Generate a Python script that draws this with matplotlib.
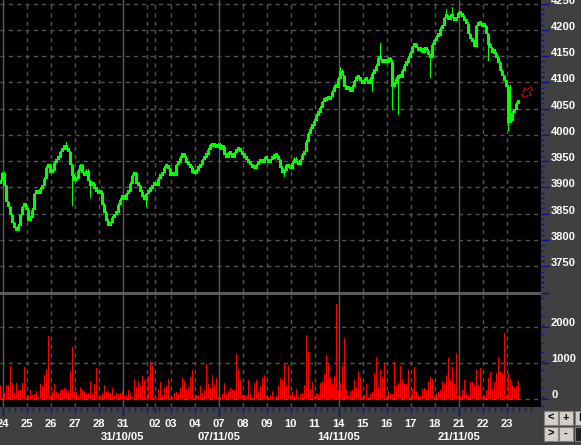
import numpy as np
import matplotlib
matplotlib.use('Agg')
import matplotlib.pyplot as plt
import matplotlib.transforms as mtransforms
from matplotlib.patches import Rectangle, FancyArrowPatch

# ----------- DATA -----------
first_open = 3910
closes = [
    3915, 3930, 3905, 3875, 3865, 3850, 3835, 3825, 3820, 3830,
    3850, 3865, 3870, 3860, 3840, 3845, 3860, 3890, 3895, 3890,
    3900, 3905, 3920, 3940, 3945, 3930, 3935, 3950, 3955, 3960,
    3970, 3975, 3980, 3975, 3970, 3945, 3925, 3915, 3920, 3935,
    3945, 3930, 3925, 3935, 3915, 3905, 3910, 3900, 3895, 3890,
    3893, 3870, 3855, 3840, 3830, 3835, 3845, 3850, 3855, 3870,
    3880, 3885, 3880, 3890, 3895, 3910, 3925, 3930, 3910, 3905,
    3895, 3885, 3880, 3890, 3895, 3900, 3905, 3910, 3905, 3920,
    3925, 3930, 3940, 3942, 3938, 3925, 3930, 3925, 3945, 3950,
    3960, 3965, 3960, 3950, 3945, 3940, 3930, 3928, 3935, 3940,
    3945, 3955, 3960, 3965, 3975, 3982, 3980, 3983, 3978, 3985,
    3975, 3980, 3965, 3960, 3968, 3965, 3960, 3968, 3972, 3975,
    3970, 3965, 3960, 3955, 3950, 3945, 3940, 3938, 3945, 3950,
    3955, 3950, 3958, 3955, 3950, 3955, 3958, 3960, 3962, 3955,
    3940, 3930, 3935, 3945, 3940, 3938, 3950, 3958, 3950, 3945,
    3955, 3965, 3970, 3990, 4005, 4015, 4020, 4030, 4040, 4045,
    4055, 4065, 4068, 4072, 4070, 4075, 4085, 4095, 4093, 4110,
    4125, 4115, 4095, 4088, 4092, 4085, 4095, 4105, 4112, 4110,
    4105, 4100, 4108, 4105, 4100, 4110, 4120, 4125, 4135, 4150,
    4145, 4140, 4145, 4140, 4148, 4142, 4095, 4100, 4110, 4115,
    4112, 4125, 4135, 4140, 4150, 4160, 4170, 4175, 4168, 4163,
    4165, 4160, 4168, 4163, 4155, 4150, 4175, 4182, 4190, 4192,
    4205, 4210, 4225, 4228, 4222, 4230, 4225, 4220, 4225, 4235,
    4232, 4228, 4220, 4215, 4195, 4185, 4180, 4170, 4210, 4215,
    4212, 4208, 4210, 4195, 4175, 4168, 4160, 4158, 4150, 4140,
    4125, 4115, 4105, 4095, 4025, 4030, 4045, 4050, 4062, 4065,
]
wick_highs = {33: 3987, 170: 4130, 190: 4175, 223: 4240, 226: 4244, 255: 4095}
wick_lows = {36: 3865, 45: 3880, 73: 3863, 142: 3920, 186: 4082, 196: 4048,
             199: 4038, 215: 4108, 244: 4140, 254: 4008}

volumes = [
    390, 20, 175, 390, 390, 925, 450, 175, 450, 250,
    250, 450, 900, 30, 80, 250, 110, 140, 220, 65,
    420, 360, 670, 830, 1750, 80, 200, 420, 200, 160,
    250, 280, 305, 250, 220, 780, 1435, 200, 195, 80,
    325, 250, 200, 140, 160, 500, 140, 420, 860, 65,
    90, 175, 390, 200, 220, 160, 300, 80, 175, 140,
    160, 230, 80, 110, 250, 140, 55, 545, 335, 500,
    390, 640, 530, 30, 640, 1055, 915, 30, 35, 270,
    470, 110, 305, 360, 545, 35, 65, 160, 195, 140,
    305, 585, 500, 280, 335, 610, 805, 30, 110, 110,
    360, 165, 250, 980, 420, 305, 670, 390, 585, 55,
    45, 130, 445, 140, 220, 305, 250, 250, 1250, 830,
    530, 110, 110, 110, 530, 140, 30, 445, 530, 195,
    360, 585, 670, 80, 55,
    110, 220, 35, 80, 360, 585, 530, 1010, 360, 915,
    80, 195, 80, 280, 45, 140, 165, 390, 1780, 1305,
    280, 470, 45, 165, 140, 445, 500, 695, 1220, 1000,
    585, 445, 640, 2640, 250, 445, 915, 1695, 280, 80,
    220, 250, 530, 335, 780, 585, 55, 110, 415, 55,
    140, 195, 720, 1165, 335, 805, 585, 970, 55, 220,
    165, 140, 1030, 360, 445, 915, 555, 415, 415, 805,
    55, 280, 890, 195, 80, 80, 280, 305, 250, 470,
    610, 555, 55, 165, 195, 250, 500, 445, 640, 1140,
    530, 890, 415, 1280, 80, 80, 250, 530, 140, 80,
    470, 470, 360, 805, 390, 860, 55, 80, 250, 585,
    750, 250, 470, 720, 1165, 750, 720, 1835, 80, 720,
    555, 390, 305, 360, 500,
]

day_starts = [1, 13, 25, 37, 49, 61, 73, 77, 85, 97, 109, 121, 133, 145, 157,
              169, 181, 193, 205, 217, 229, 241, 253]
day_labels = ['24', '25', '26', '27', '28', '31', '', '02', '03', '04', '07', '08',
              '09', '10', '11', '14', '15', '16', '17', '18', '21', '22', '23']
week_starts = [1, 61, 109, 169, 229]
week_labels = ['', '31/10/05', '07/11/05', '14/11/05', '21/11/05']
price_levels = [3750, 3800, 3850, 3900, 3950, 4000, 4050, 4100, 4150, 4200, 4250]
vol_levels = [0, 1000, 2000]

# ----------- STYLE -----------
W, H = 581, 445
BG = '#404040'
GREEN = '#00ff00'
GRID = '#555555'
TICK = '#1010a0'
FS = 8
XLIM = (-0.25, 270.25)
plt.rcParams['font.family'] = ['Liberation Sans', 'DejaVu Sans']


def fx(px):
    return px / W


def fy(py):
    return 1 - py / H


fig = plt.figure(figsize=(W / 100, H / 100), dpi=100, facecolor=BG)
ax = fig.add_axes([0, fy(292), fx(541), 292 / H], facecolor='black')
axv = fig.add_axes([0, fy(407), fx(541), (407 - 295) / H], facecolor='black')
fig.add_artist(Rectangle((0, fy(295)), fx(541), 3 / H, transform=fig.transFigure,
                         fc='#5a5a5a', ec='none'))

n = len(closes)
idx = np.arange(n)
c = np.array(closes, dtype=float)
o = np.concatenate([[first_open], c[:-1]])
hi = np.maximum(o, c)
lo = np.minimum(o, c)
for k, v in wick_highs.items():
    hi[k] = max(hi[k], v)
for k, v in wick_lows.items():
    lo[k] = min(lo[k], v)

# ----------- GRID -----------
for lv in price_levels:
    ax.axhline(lv, color=GRID, lw=1, ls=(0, (3, 3)), zorder=0)
for lv in vol_levels:
    axv.axhline(lv, color=GRID, lw=1, ls=(0, (3, 3)), zorder=0)
for d in day_starts:
    for a in (ax, axv):
        if d in week_starts:
            a.axvline(d, color='#5c5c5c', lw=1, zorder=0)
        else:
            a.axvline(d, color=GRID, lw=1, ls=(0, (3, 3)), zorder=0)

# ----------- PRICE PANEL -----------
ax.bar(idx, hi - lo, bottom=lo, width=0.5, color=GREEN, lw=0, zorder=2,
       antialiased=False)
body_lo = np.minimum(o, c)
body = np.maximum(np.abs(c - o), 8)
ax.bar(idx, body, bottom=body_lo - 3, width=1.4, color=GREEN, lw=0, zorder=3,
       antialiased=False)

arrow = FancyArrowPatch((266.5, 4093), (259.8, 4068), mutation_scale=1,
                        arrowstyle='simple,head_width=7,head_length=6,tail_width=2.5',
                        fc='none', ec='red', ls=(0, (2, 1.5)), lw=0.8, zorder=4)
ax.add_patch(arrow)

ax.set_xlim(*XLIM)
ax.set_ylim(3701, 4257)

# ----------- VOLUME PANEL -----------
axv.bar(idx, volumes, width=0.5, color='#ff0000', lw=0, zorder=2,
        antialiased=False)
axv.set_xlim(*XLIM)
axv.set_ylim(-222, 2889)

for a in (ax, axv):
    for s in a.spines.values():
        s.set_visible(False)
    a.set_xticks([])
    a.set_yticks([])

# ----------- RIGHT AXIS -----------
trp = mtransforms.blended_transform_factory(ax.transAxes, ax.transData)
for v in range(3700, 4260, 10):
    ln = 8 if v % 50 == 0 else 3
    ax.plot([1, 1 + ln / 541], [v, v], transform=trp, color=TICK, lw=1,
            clip_on=False, solid_capstyle='butt')
for lv in price_levels:
    ax.text(1 + 10 / 541, lv + 6, str(lv), transform=trp, color='white',
            fontsize=FS, fontweight='bold', ha='left', va='center', clip_on=False)

trv = mtransforms.blended_transform_factory(axv.transAxes, axv.transData)
for v in range(-200, 2900, 250):
    ln = 8 if v % 1000 == 0 else 3
    axv.plot([1, 1 + ln / 541], [v, v], transform=trv, color=TICK, lw=1,
             clip_on=False, solid_capstyle='butt')
for v in range(0, 2900, 1000):
    axv.plot([1, 1 + 8 / 541], [v, v], transform=trv, color=TICK, lw=1,
             clip_on=False, solid_capstyle='butt')
for lv in vol_levels:
    axv.text(1 + 10 / 541, lv + 110, str(lv), transform=trv, color='white',
             fontsize=FS, fontweight='bold', ha='left', va='center', clip_on=False)

# ----------- BOTTOM AXIS -----------
trb = mtransforms.blended_transform_factory(axv.transData, fig.transFigure)
for i in range(1, 266, 3):
    axv.plot([i, i], [fy(407), fy(411)], transform=trb, color=TICK, lw=1,
             clip_on=False, solid_capstyle='butt')
for d in day_starts:
    ln = 9 if d in week_starts else 6
    axv.plot([d, d], [fy(407), fy(407 + ln)], transform=trb, color=TICK, lw=1,
             clip_on=False, solid_capstyle='butt')
for d, lab in zip(day_starts, day_labels):
    axv.text(d, fy(424), lab, transform=trb, color='white', fontsize=FS,
             fontweight='bold', ha='center', va='center', clip_on=False)
for d, lab in zip(week_starts, week_labels):
    axv.text(d, fy(437), lab, transform=trb, color='white', fontsize=FS,
             fontweight='bold', ha='center', va='center', clip_on=False)

# ----------- BUTTONS -----------
buttons = [(544, 411, '<'), (559, 411, '+'), (575, 411, 'F'),
           (544, 427, '>'), (559, 427, '-'), (575, 427, '')]
for bx, by, lab in buttons:
    fc = '#d4d0c8' if lab else '#202020'
    fig.add_artist(Rectangle((fx(bx), fy(by + 14)), 14 / W, 14 / H,
                             transform=fig.transFigure, fc=fc, ec='#808080', lw=0.8))
    if lab:
        fig.text(fx(bx + 7), fy(by + 7), lab, color='black', fontsize=8,
                 fontweight='bold', ha='center', va='center')

fig.savefig('out.png', dpi=100, facecolor=BG)
